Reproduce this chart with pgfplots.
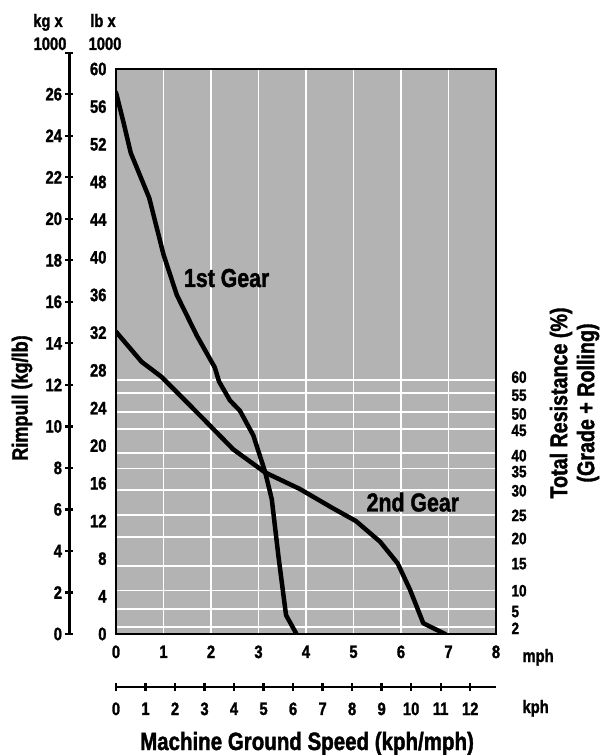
\documentclass[border=0pt]{standalone}
\usepackage{fontspec}
\setmainfont{Liberation Sans}[FakeStretch=0.82, BoldFeatures={FakeBold=1.5}]
\usepackage{pgfplots}
\pgfplotsset{compat=1.18}

\definecolor{chartgray}{RGB}{179,179,179}
\newcommand{\fs}[1]{\fontsize{#1}{#1}\selectfont\bfseries}

\pgfplotsset{
  base/.style={scale only axis, width=380pt, height=565pt,
    at={(0pt,0pt)}, anchor=south west,
    xmin=0, xmax=8, ymin=0, ymax=60,
    /pgf/number format/assume math mode=true,
    tick label style={font=\fs{18}}, major tick length=0pt},
  scale/.style={scale only axis,
    /pgf/number format/assume math mode=true,
    tick label style={font=\fs{18}},
    tick style={black, line width=2.3pt},
    tick align=inside, major tick length=8pt},
}

\begin{document}
\begin{tikzpicture}[font=\bfseries]
\useasboundingbox (-116pt,-121pt) rectangle (484pt,634pt);

% gray field and white grid (horizontal lines = total resistance levels)
\begin{axis}[base,
    axis background/.style={fill=chartgray},
    axis line style={draw=none},
    xtick={1,...,7}, xticklabels={},
    ytick={27.0,25.58,23.55,21.77,19.18,17.58,15.26,12.63,10.28,7.18,4.62,2.64,0.78},
    yticklabels={},
    grid=major, grid style={white, line width=1.8pt}]
\end{axis}

% total resistance labels on the right
\begin{axis}[base,
    axis line style={draw=none},
    xtick=\empty,
    ytick={27.27,25.35,23.37,21.61,18.94,17.24,15.21,12.59,10.14,7.47,4.59,2.38,0.6},
    yticklabels={60,55,50,45,40,35,30,25,20,15,10,5,2},
    ytick pos=right, yticklabel pos=right,
    yticklabel style={xshift=12pt, inner ysep=0pt, font=\fs{16.5}}]
\end{axis}

% rimpull in lb x 1000 against mph
\begin{axis}[base,
    axis line style={line width=2.2pt},
    xtick={0,...,8}, ytick={0,4,...,60},
    xticklabel style={yshift=-8pt},
    yticklabel style={xshift=-6pt}]
\addplot[black, line width=4.5pt, line join=round, line cap=round] coordinates {
  (0,57.5) (0.15,54.5) (0.31,51.1) (0.70,46.3) (1.0,40.3) (1.28,36.0)
  (1.70,31.7) (2.08,28.3) (2.17,26.8) (2.40,24.8) (2.61,23.7) (2.89,21.1)
  (3.14,17.2) (3.28,14.3) (3.42,8.25) (3.58,2.0) (3.80,0)};
\addplot[black, line width=4.5pt, line join=round, line cap=round] coordinates {
  (0,32.1) (0.54,28.9) (0.96,27.3) (1.77,23.2) (2.47,19.6) (3.14,17.15)
  (3.87,15.4) (4.55,13.4) (5.05,12.0) (5.56,9.8) (5.93,7.5) (6.19,4.7)
  (6.47,1.14) (6.93,0)};
\node[font=\fs{26}] at (axis cs:2.33,37.8) {1st Gear};
\node[font=\fs{26}] at (axis cs:6.25,14.0) {2nd Gear};
\end{axis}

% kg x 1000 scale
\begin{axis}[scale, width=20pt, height=581.3pt,
    at={(-46.5pt,0pt)}, anchor=south west,
    xmin=0, xmax=1, ymin=0, ymax=28,
    axis x line=none, axis y line=left,
    axis line style={-, line width=2.3pt},
    ytick={0,2,...,28},
    yticklabels={0,2,4,6,8,10,12,14,16,18,20,22,24,26,{}}]
\end{axis}

% kph scale
\begin{axis}[scale, width=380pt, height=10pt,
    at={(0pt,-53pt)}, anchor=south west,
    xmin=0, xmax=12.8748, ymin=0, ymax=1,
    axis y line=none, axis x line=bottom,
    axis line style={-, line width=2.3pt},
    xtick={0,...,12},
    xticklabel style={yshift=-8pt}]
\end{axis}

\node[font=\fs{18}, anchor=base] at (-68pt,607pt) {kg x};
\node[font=\fs{18}, anchor=base] at (-66pt,584pt) {1000};
\node[font=\fs{18}, anchor=base] at (-13pt,607pt) {lb x};
\node[font=\fs{18}, anchor=base] at (-11pt,584pt) {1000};
\node[font=\fs{18}, anchor=base west] at (403pt,-28pt) {mph};
\node[font=\fs{18}, anchor=base west] at (403pt,-79pt) {kph};
\node[font=\fs{22}, rotate=90] at (-94pt,236pt) {Rimpull (kg/lb)};
\node[font=\fs{24}, rotate=90, align=center, execute at begin node=\setlength{\baselineskip}{27pt}]
  at (458.5pt,231pt) {Total Resistance (\%)\\(Grade + Rolling)};
\node[font=\fs{25}, anchor=base] at (191pt,-116pt) {Machine Ground Speed (kph/mph)};
\end{tikzpicture}
\end{document}
